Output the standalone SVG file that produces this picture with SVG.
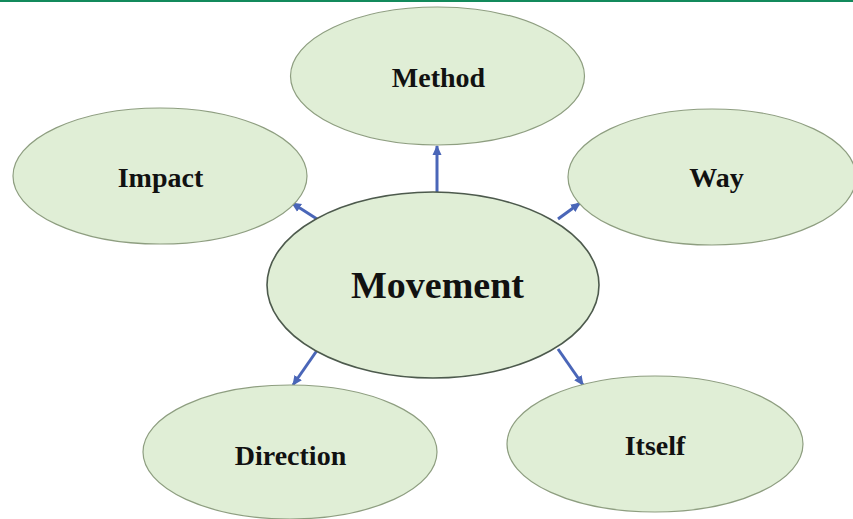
<svg xmlns="http://www.w3.org/2000/svg" width="853" height="519" viewBox="0 0 853 519">
<defs>
<marker id="ah" viewBox="0 0 10 10" refX="9" refY="5" markerWidth="10" markerHeight="10" markerUnits="userSpaceOnUse" orient="auto">
<path d="M0,0.5 L10,5 L0,9.5 Z" fill="#4a66b8"/>
</marker>
<style>
.n ellipse{fill:#e0eed6;stroke:#8e9e80;stroke-width:1.2}
.c ellipse{fill:#e0eed6;stroke:#4d5a4d;stroke-width:1.6}
text{font-family:"Liberation Serif","Times New Roman",serif;font-weight:bold;fill:#111;text-anchor:middle}
.s{font-size:28px}
.b{font-size:38px}
.e line{stroke:#4a66b8;stroke-width:3;marker-end:url(#ah)}
</style>
</defs>
<rect x="0" y="0" width="853" height="2" fill="#138a5c"/>
<g class="e" id="connectors">
<line x1="437" y1="192" x2="437" y2="146"/>
<line x1="317" y1="219" x2="292" y2="203"/>
<line x1="558" y1="219" x2="580" y2="203"/>
<line x1="318" y1="349" x2="293" y2="385"/>
<line x1="558" y1="349" x2="583" y2="385"/>
</g>
<g id="method" class="n"><ellipse cx="437.5" cy="76" rx="147" ry="69"/><text class="s" x="438.5" y="87">Method</text></g>
<g id="impact" class="n"><ellipse cx="160" cy="176" rx="147" ry="68"/><text class="s" x="160.5" y="187">Impact</text></g>
<g id="way" class="n"><ellipse cx="712" cy="177" rx="144" ry="68"/><text class="s" x="716.5" y="187">Way</text></g>
<g id="movement" class="c"><ellipse cx="433" cy="285" rx="166" ry="93"/><text class="b" x="437.5" y="298">Movement</text></g>
<g id="direction" class="n"><ellipse cx="290" cy="452" rx="147" ry="67"/><text class="s" x="290.5" y="465">Direction</text></g>
<g id="itself" class="n"><ellipse cx="655" cy="444" rx="148" ry="68"/><text class="s" x="655" y="455">Itself</text></g>
</svg>
